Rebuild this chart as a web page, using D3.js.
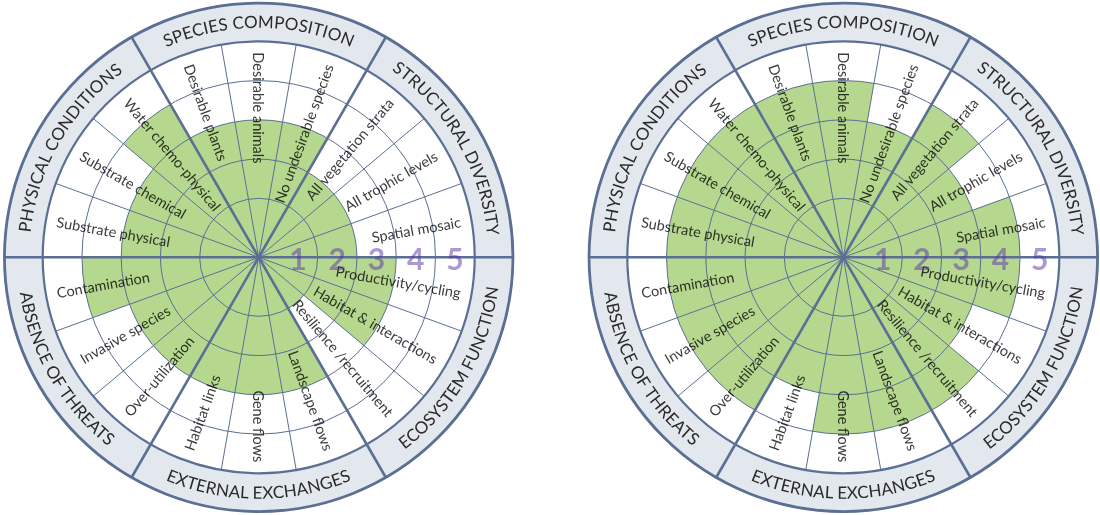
<!DOCTYPE html>
<html><head><meta charset="utf-8">
<script src="https://cdn.jsdelivr.net/npm/d3@7"></script>
<style>body{margin:0;background:#fff} svg{display:block}</style>
</head><body><svg id="chart" width="1100" height="515"></svg>
<script>
// ---- data ----
const categories = ["SPECIES COMPOSITION","STRUCTURAL DIVERSITY","ECOSYSTEM FUNCTION","EXTERNAL EXCHANGES","ABSENCE OF THREATS","PHYSICAL CONDITIONS"];
const attributes = ["Desirable plants","Desirable animals","No undesirable species",
  "All vegetation strata","All trophic levels","Spatial mosaic",
  "Productivity/cycling","Habitat & interactions","Resilience /recruitment",
  "Landscape flows","Gene flows","Habitat links",
  "Over-utilization","Invasive species","Contamination",
  "Substrate physical","Substrate chemical","Water chemo-physical"];
const levelTicks = [1,2,3,4,5];
const scoresLeft  = [3,3,3, 2,2,2, 3,3,1, 3,3,3, 3,3,4, 3,3,4];
const scoresRight = [4,4,3, 4,3,4, 4,3,4, 4,4,3, 4,4,4, 4,4,4];

// ---- drawing ----
const svg = d3.select("#chart");
const defs = svg.append("defs");
const r = d3.scaleLinear().domain([0,6]).range([19.75,255.25]);
const ang = d3.scaleLinear().domain([0,attributes.length]).range([-Math.PI/6, 2*Math.PI-Math.PI/6]);
const catAng = d3.scaleLinear().domain([0,categories.length]).range([0, 2*Math.PI]);
const LINE = "#5a6f93", GREEN = "#b5d78e";
const FONT = "Lato, 'Noto Sans', sans-serif";
const arc = d3.arc();

function drawWheel(cx, cy, scores, id){
  const g = svg.append("g").attr("transform",`translate(${cx},${cy})`);
  g.append("path").attr("d", arc({innerRadius:r(5), outerRadius:r(6), startAngle:0, endAngle:2*Math.PI}))
    .attr("fill","#e3e7ee");
  g.append("circle").attr("r", r(5)).attr("fill","#fff");
  const wedges = attributes.map((a,i)=>({innerRadius:0, outerRadius:r(scores[i]), startAngle:ang(i), endAngle:ang(i+1)}));
  g.append("g").selectAll("path").data(wedges).join("path").attr("d",arc).attr("fill",GREEN);

  // rings
  g.append("g").selectAll("circle").data(levelTicks.slice(0,4)).join("circle")
    .attr("r",d=>r(d)).attr("fill","none").attr("stroke",LINE).attr("stroke-width",1);
  g.append("circle").attr("r",r(5)).attr("fill","none").attr("stroke",LINE).attr("stroke-width",2.2);
  g.append("circle").attr("r",r(6)-1).attr("fill","none").attr("stroke",LINE).attr("stroke-width",2.8);

  // spokes
  const idx = d3.range(attributes.length);
  g.append("g").selectAll("line").data(idx).join("line")
    .attr("x1",0).attr("y1",0)
    .attr("x2",i=>Math.sin(ang(i))*(i%3===0?r(6)-1:r(5)))
    .attr("y2",i=>-Math.cos(ang(i))*(i%3===0?r(6)-1:r(5)))
    .attr("stroke",LINE).attr("stroke-width",i=>i%3===0?2.6:1);

  // attribute labels (multiply so they turn dark green over the fill)
  const isOut = i => { let deg = ang(i+0.5)*180/Math.PI; deg = ((deg%360)+360)%360; return deg>0.01 && deg<=180.01; };
  const degOf = i => ang(i+0.5)*180/Math.PI;
  g.append("g").style("mix-blend-mode","multiply")
    .selectAll("text").data(attributes).join("text")
    .attr("transform",(d,i)=> isOut(i) ? `rotate(${degOf(i)-90}) translate(205,0)` : `rotate(${degOf(i)+90}) translate(-205,0)`)
    .attr("text-anchor",(d,i)=> isOut(i) ? "end" : "start")
    .attr("dominant-baseline","central")
    .attr("font-family",FONT).attr("font-size",14.5).attr("fill","#3c3c3c")
    .text(d=>d);

  // level numbers
  g.append("g").selectAll("text").data(levelTicks).join("text")
    .attr("x",d=>r(d-0.5)).attr("y",1)
    .attr("text-anchor","middle").attr("dominant-baseline","central")
    .attr("font-family",FONT).attr("font-weight","bold").attr("font-size",30)
    .attr("fill","#5b31ad").attr("fill-opacity",0.5).text(d=>d);

  // category labels
  categories.forEach((c,k)=>{
    const a = catAng(k);
    const top = Math.cos(a) > 0.1;
    const p = d3.path();
    const span = Math.PI/3;
    if (top) p.arc(0,0,229.5,a-span-Math.PI/2,a+span-Math.PI/2,false);
    else p.arc(0,0,241.5,a+span-Math.PI/2,a-span-Math.PI/2,true);
    const pid = `${id}-cat${k}`;
    defs.append("path").attr("id",pid).attr("d",p.toString())
      .attr("transform",`translate(${cx},${cy})`);
    svg.append("text").attr("font-family",FONT).attr("font-size",17).attr("letter-spacing",0.1)
      .attr("fill","#2a2a2a")
      .append("textPath").attr("href",`#${pid}`).attr("startOffset","50%").attr("text-anchor","middle")
      .text(c);
  });
}
drawWheel(258.7, 257.3, scoresLeft, "clipL");
drawWheel(843.3, 257.3, scoresRight, "clipR");
</script></body></html>
